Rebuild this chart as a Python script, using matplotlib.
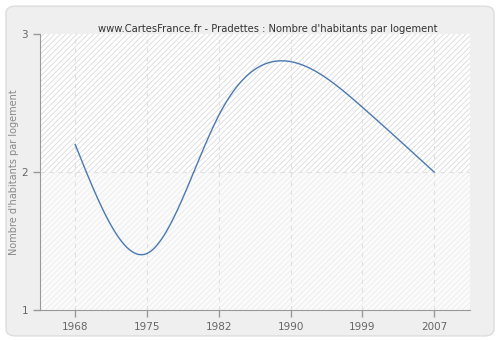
import numpy as np
import matplotlib
matplotlib.use("Agg")
import matplotlib.pyplot as plt
from matplotlib.patches import FancyBboxPatch

# data
years = ["1968", "1975", "1982", "1990", "1999", "2007"]
values = [2.20, 1.41, 2.41, 2.80, 2.47, 2.00]
y_ticks = [1, 2, 3]

title = "www.CartesFrance.fr - Pradettes : Nombre d'habitants par logement"
y_label = "Nombre d'habitants par logement"


def natural_spline(x, y, n=400):
    # plain natural cubic spline, only used to draw a smooth line
    x = np.asarray(x, float)
    y = np.asarray(y, float)
    k = len(x)
    h = np.diff(x)
    A = np.zeros((k, k))
    b = np.zeros(k)
    A[0, 0] = A[-1, -1] = 1
    for i in range(1, k - 1):
        A[i, i - 1] = h[i - 1]
        A[i, i] = 2 * (h[i - 1] + h[i])
        A[i, i + 1] = h[i]
        b[i] = 3 * ((y[i + 1] - y[i]) / h[i] - (y[i] - y[i - 1]) / h[i - 1])
    c = np.linalg.solve(A, b)
    xs = np.linspace(x[0], x[-1], n)
    ys = np.empty_like(xs)
    for j, xv in enumerate(xs):
        i = min(np.searchsorted(x, xv, side="right") - 1, k - 2)
        d = xv - x[i]
        bb = (y[i + 1] - y[i]) / h[i] - h[i] * (2 * c[i] + c[i + 1]) / 3
        dd = (c[i + 1] - c[i]) / (3 * h[i])
        ys[j] = y[i] + bb * d + c[i] * d ** 2 + dd * d ** 3
    return xs, ys


fig = plt.figure(figsize=(5, 3.4), dpi=100)
fig.patch.set_facecolor("white")
fig.patches.append(FancyBboxPatch((0.012, 0.012), 0.976, 0.97,
                                  boxstyle="round,pad=0,rounding_size=0.02",
                                  transform=fig.transFigure,
                                  facecolor="#efefef", edgecolor="#dddddd",
                                  linewidth=1, zorder=-10))

ax = fig.add_axes([0.08, 0.088, 0.86, 0.812])
ax.set_facecolor("none")

x = np.arange(len(years))
ax.set_xlim(-0.49, 5.5)
ax.set_ylim(1, 3)

# hatched background, stronger above 2
plt.rcParams["hatch.linewidth"] = 0.6
ax.axhspan(2, 3, facecolor="white", edgecolor="#dadada", hatch="//////",
           linewidth=0, zorder=0)
ax.axhspan(1, 2, facecolor="#fbfbfb", edgecolor="#ececec", hatch="//////",
           linewidth=0, zorder=0)

for xi in x:
    ax.axvline(xi, color="#e0e0e0", linestyle=(0, (4, 4)), linewidth=0.8, zorder=1)
for yv in y_ticks[1:-1]:
    ax.axhline(yv, color="#e0e0e0", linestyle=(0, (4, 4)), linewidth=0.8, zorder=1)

xs, ys = natural_spline(x, values)
ax.plot(xs, ys, color="#4a79b0", linewidth=1, zorder=3)

ax.set_xticks(x)
ax.set_xticklabels(years)
ax.set_yticks(y_ticks)
ax.tick_params(colors="#999999", labelcolor="#666666", labelsize=7.5,
               length=5, width=1)
for s in ["top", "right"]:
    ax.spines[s].set_visible(False)
for s in ["left", "bottom"]:
    ax.spines[s].set_color("#999999")

ax.set_ylabel(y_label, color="#888888", fontsize=7, labelpad=2)
fig.text(0.535, 0.915, title, ha="center", va="center", fontsize=7.2,
         color="#333333")

fig.savefig("out.png", dpi=100, facecolor=fig.get_facecolor())
